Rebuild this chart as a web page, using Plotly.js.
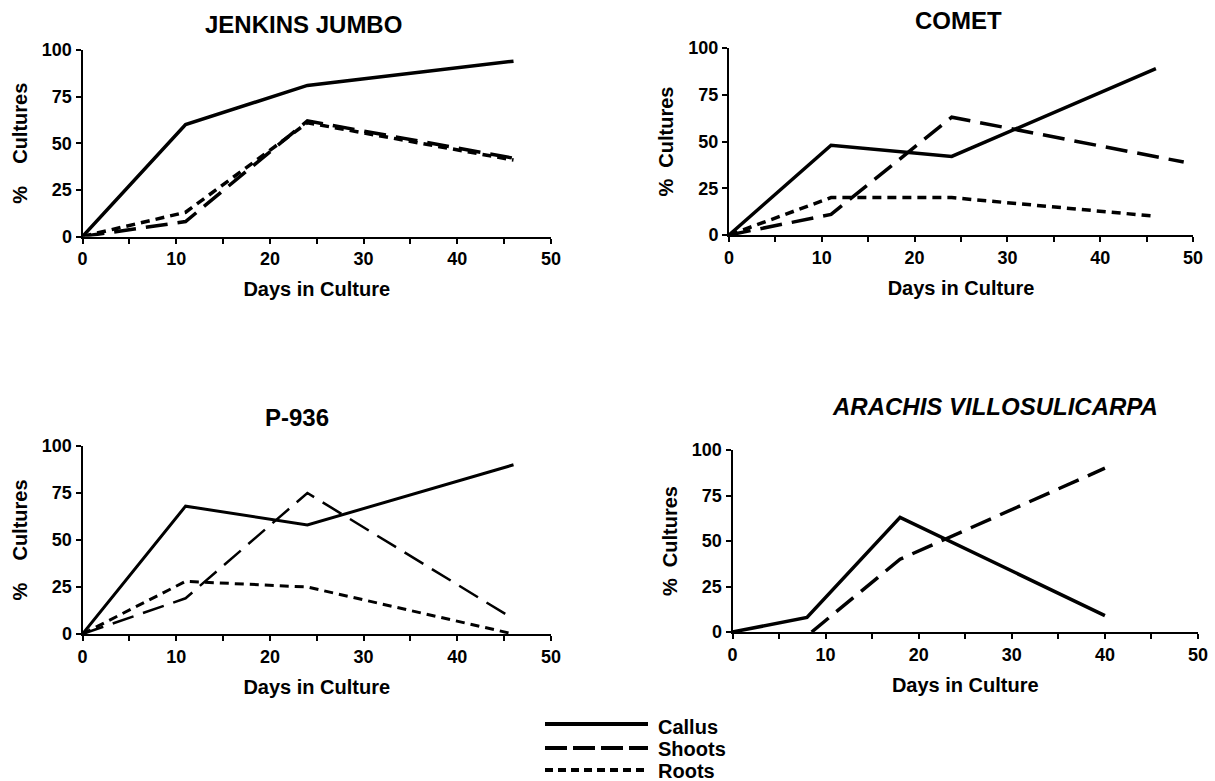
<!DOCTYPE html>
<html>
<head>
<meta charset="utf-8">
<script src="https://cdn.plot.ly/plotly-3.0.1.min.js"></script>
<style>
html,body{margin:0;padding:0;background:#fff;}
#chart{width:1215px;height:781px;}
</style>
</head>
<body>
<div id="chart"></div>
<script>
// ---------- data ----------
const seriesNames = ['Callus', 'Shoots', 'Roots'];
const panelTitles = ['JENKINS JUMBO', 'COMET', 'P-936', 'ARACHIS VILLOSULICARPA'];
const xTitle = 'Days in Culture';
const xTickVals = [0, 10, 20, 30, 40, 50];
const yTickVals = [0, 25, 50, 75, 100];

// Jenkins Jumbo
const jenkinsDays = [0, 11, 24, 46];
const jenkinsCallus = [0, 60, 81, 94];
const jenkinsShoots = [0, 8, 62, 42];
const jenkinsRoots = [0, 13, 61, 41];

// Comet
const cometDays = [0, 11, 24, 46];
const cometCallus = [0, 48, 42, 89];
const cometShootDays = [0, 11, 24, 49];
const cometShoots = [0, 11, 63, 39];
const cometRoots = [0, 20, 20, 10];

// P-936
const p936Days = [0, 11, 24, 46];
const p936Callus = [0, 68, 58, 90];
const p936Shoots = [0, 19, 75, 8];
const p936Roots = [0, 28, 25, 0];

// Arachis villosulicarpa
const arachisCallusDays = [0, 8, 18, 40];
const arachisCallus = [0, 8, 63, 9];
const arachisShootDays = [8.5, 18, 40];
const arachisShoots = [0, 40, 90];

// ---------- styles ----------
const FONT = 'Liberation Sans, Arial, Helvetica, sans-serif';
const dashFor = {Callus: 'solid', Shoots: '22px,10px', Roots: '9px,6px'};
const legendDash = {Callus: 'solid', Shoots: '22px,6px', Roots: '8px,5px'};

function tr(x, y, name, axis, width) {
  return {
    type: 'scatter', mode: 'lines', x: x, y: y, name: name,
    xaxis: 'x' + axis, yaxis: 'y' + axis,
    line: {color: '#000', width: width, dash: dashFor[name]},
    hoverinfo: 'skip', showlegend: false
  };
}

const data = [
  tr(jenkinsDays, jenkinsCallus, 'Callus', '', 3.5),
  tr(jenkinsDays, jenkinsShoots, 'Shoots', '', 3.5),
  tr(jenkinsDays, jenkinsRoots, 'Roots', '', 3.5),
  tr(cometDays, cometCallus, 'Callus', '2', 3.5),
  tr(cometShootDays, cometShoots, 'Shoots', '2', 3.5),
  tr(cometDays, cometRoots, 'Roots', '2', 3.5),
  tr(p936Days, p936Callus, 'Callus', '3', 3),
  tr(p936Days, p936Shoots, 'Shoots', '3', 2.5),
  tr(p936Days, p936Roots, 'Roots', '3', 3),
  tr(arachisCallusDays, arachisCallus, 'Callus', '4', 3.5),
  tr(arachisShootDays, arachisShoots, 'Shoots', '4', 3.5)
];

const W = 1215, H = 781;
function px(x) { return x / W; }
function py(y) { return 1 - y / H; }

function xAxis(x0, x1, anchor) {
  return {
    domain: [px(x0), px(x1)], range: [0, 50], anchor: anchor,
    showline: true, linecolor: '#000', linewidth: 2,
    ticks: 'outside', ticklen: 5, tickwidth: 2, tickcolor: '#000',
    tickmode: 'array', tickvals: xTickVals,
    minor: {tickmode: 'linear', tick0: 0, dtick: 5, ticks: 'outside', ticklen: 5, tickwidth: 2, tickcolor: '#000', showgrid: false},
    showgrid: false, zeroline: false,
    tickfont: {family: FONT, size: 18, color: '#000', weight: 'bold'},
    title: {text: xTitle, standoff: 14, font: {family: FONT, size: 20, color: '#000', weight: 'bold'}},
    fixedrange: true
  };
}
function yAxis(y0, y100, anchor, title) {
  return {
    domain: [py(y0), py(y100)], range: [0, 100], anchor: anchor,
    showline: true, linecolor: '#000', linewidth: 2,
    ticks: 'outside', ticklen: 5, tickwidth: 2, tickcolor: '#000',
    tickmode: 'array', tickvals: yTickVals,
    showgrid: false, zeroline: false,
    tickfont: {family: FONT, size: 18, color: '#000', weight: 'bold'},
    title: {text: title, standoff: 9, font: {family: FONT, size: 20, color: '#000', weight: 'bold'}},
    fixedrange: true
  };
}

const NB = '\u00A0';
const yTitleWide = '%' + NB + NB + NB + ' Cultures';
const yTitleNarrow = '%' + NB + ' Cultures';

const layout = {
  width: W, height: H,
  margin: {l: 0, r: 0, t: 0, b: 0},
  paper_bgcolor: '#fff', plot_bgcolor: '#fff',
  showlegend: false, hovermode: false,
  font: {family: FONT, color: '#000'},
  xaxis: xAxis(82.5, 551, 'y'),
  yaxis: yAxis(236.5, 50, 'x', yTitleWide),
  xaxis2: xAxis(729, 1193, 'y2'),
  yaxis2: yAxis(235, 48, 'x2', yTitleNarrow),
  xaxis3: xAxis(82.5, 551, 'y3'),
  yaxis3: yAxis(634, 446, 'x3', yTitleWide),
  xaxis4: xAxis(732.5, 1198, 'y4'),
  yaxis4: yAxis(632, 450, 'x4', yTitleNarrow),
  annotations: [],
  shapes: []
};

// panel titles
const titlePos = [[303.5, 24], [958, 20], [296.5, 418], [995, 406]];
panelTitles.forEach(function (t, i) {
  layout.annotations.push({
    xref: 'paper', yref: 'paper', x: px(titlePos[i][0]), y: py(titlePos[i][1]),
    xanchor: 'center', yanchor: 'middle', showarrow: false, text: t,
    font: {family: FONT, size: 24, color: '#000', weight: 'bold', style: i === 3 ? 'italic' : 'normal'}
  });
});

// legend (bottom centre)
const legLineY = [724, 748, 770];
const legTextY = [727, 749, 771];
seriesNames.forEach(function (n, i) {
  layout.shapes.push({
    type: 'line', xref: 'paper', yref: 'paper',
    x0: px(545), x1: px(648), y0: py(legLineY[i]), y1: py(legLineY[i]),
    line: {color: '#000', width: 4, dash: legendDash[n]}
  });
  layout.annotations.push({
    xref: 'paper', yref: 'paper', x: px(656), y: py(legTextY[i]),
    xanchor: 'left', yanchor: 'middle', showarrow: false, text: n,
    font: {family: FONT, size: 20, color: '#000', weight: 'bold'}
  });
});

Plotly.newPlot('chart', data, layout, {staticPlot: true, displayModeBar: false});
</script>
</body>
</html>
